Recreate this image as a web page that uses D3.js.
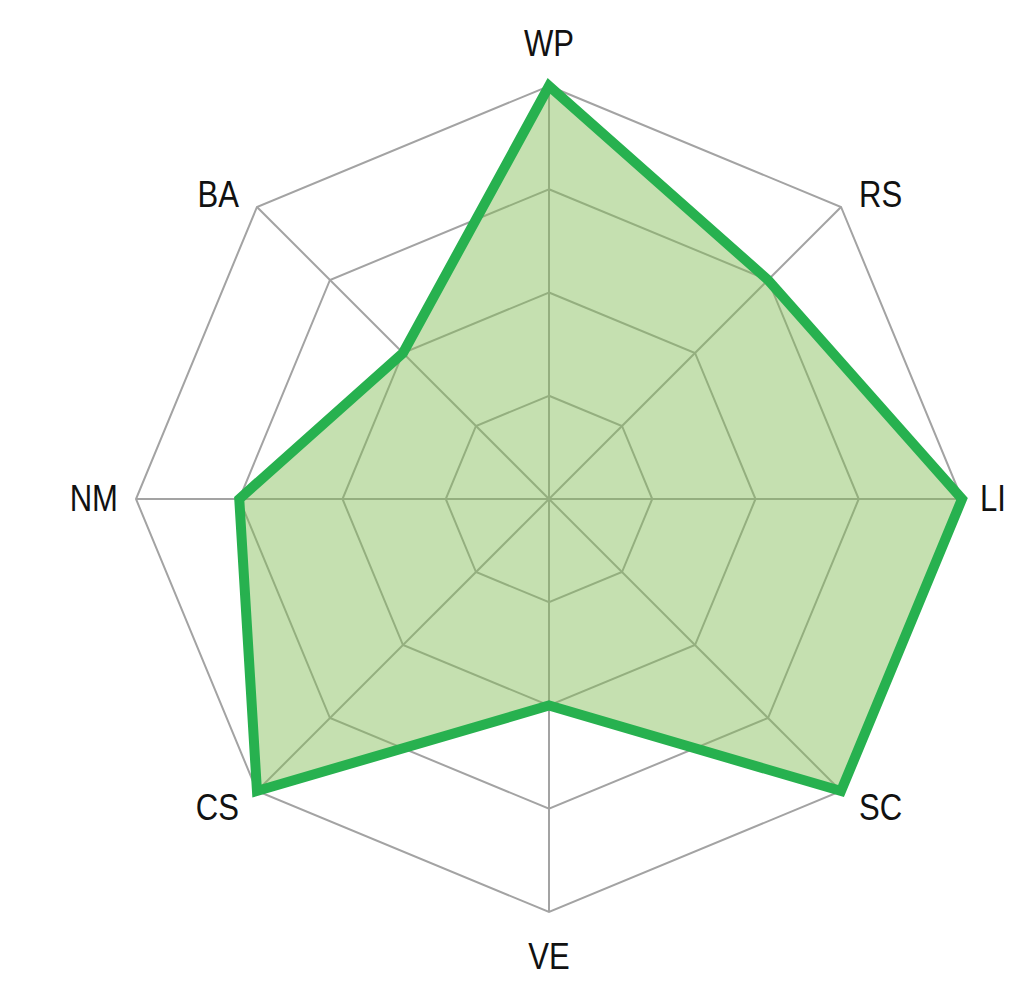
<!DOCTYPE html>
<html><head><meta charset="utf-8">
<script src="https://cdn.jsdelivr.net/npm/d3@7"></script>
<style>body{margin:0;background:#fff}</style>
</head><body>
<svg id="c" width="1024" height="982"></svg>
<script>
const axes = ["WP","RS","LI","SC","VE","CS","NM","BA"];
const values = [4,3,4,4,2,4,3,2];
const levels = [1,2,3,4];

const cx = 549, cy = 499, R = 413;
const svg = d3.select("#c");
const g = svg.append("g").attr("transform", `translate(${cx},${cy})`);
const r = d3.scaleLinear().domain([0,4]).range([0,R]);
const ang = d3.scalePoint().domain(axes).range([0, 2*Math.PI*(axes.length-1)/axes.length]);
const pt = (a,v) => [r(v)*Math.sin(ang(a)), -r(v)*Math.cos(ang(a))];

// grid rings
g.selectAll("polygon.ring").data(levels).join("polygon")
  .attr("class","ring")
  .attr("points", l => axes.map(a => pt(a,l).join(",")).join(" "))
  .attr("fill","none").attr("stroke","#a3a3a3").attr("stroke-width",2);
// spokes
g.selectAll("line.spoke").data(axes).join("line")
  .attr("x1",0).attr("y1",0)
  .attr("x2",a=>pt(a,4)[0]).attr("y2",a=>pt(a,4)[1])
  .attr("stroke","#a3a3a3").attr("stroke-width",2);

// data area
const line = d3.lineRadial().angle(d=>ang(d.a)).radius(d=>r(d.v)).curve(d3.curveLinearClosed);
const data = axes.map((a,i)=>({a, v: values[i]}));
g.append("path").attr("d", line(data))
  .attr("fill","rgba(132,189,87,0.47)")
  .attr("stroke","#27b14f").attr("stroke-width",10).attr("stroke-linejoin","miter");

// labels
const fs = 37, cap = 0.716*fs;
function labelPos(a){
  const [vx, vy] = pt(a,4);
  const s = Math.sin(ang(a)), c = -Math.cos(ang(a));
  let anchor = "middle", x = vx, y;
  if (s > 0.1) { anchor = "start"; x = vx + 18; }
  else if (s < -0.1) { anchor = "end"; x = vx - 18; }
  if (c < -0.9) y = vy - 30;               // top
  else if (c > 0.9) y = vy + 31 + cap;     // bottom
  else if (c < -0.1) y = vy;               // upper diagonal
  else if (c > 0.1) y = vy + 2 + cap;      // lower diagonal
  else y = vy + cap/2 - 1;                 // horizontal
  return {x, y, anchor};
}
g.selectAll("text.lab").data(axes).join("text")
  .attr("class","lab")
  .each(function(a){
    const p = labelPos(a);
    d3.select(this)
      .attr("transform", `translate(${p.x},${p.y}) scale(0.84,1)`)
      .attr("text-anchor", p.anchor);
  })
  .attr("font-family","Liberation Sans, Arial, sans-serif")
  .attr("font-size",fs)
  .attr("fill","#111")
  .text(a=>a);
</script>
</body></html>
